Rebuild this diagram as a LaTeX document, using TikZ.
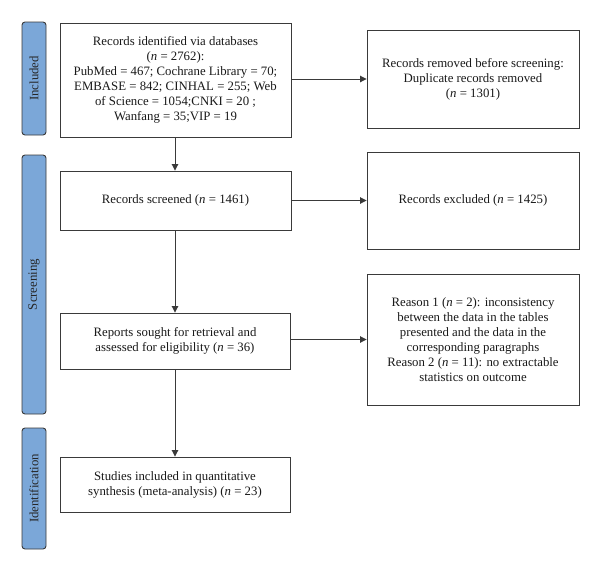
\documentclass[tikz,border=0pt]{standalone}
\usepackage{fontspec}
\setmainfont{Liberation Serif}
\usetikzlibrary{arrows.meta}
\definecolor{barblue}{HTML}{7BA7D8}
\definecolor{edge}{HTML}{3A3A3A}
\tikzset{
  box/.style={draw=edge, line width=0.9pt, fill=white, inner sep=0pt, align=center, font=\fontsize{12.8}{15}\selectfont, text=black!90},
  bar/.style={draw=edge, line width=0.9pt, fill=barblue, rounded corners=3pt, inner sep=0pt},
  barlabel/.style={rotate=90, font=\fontsize{12.8}{14}\selectfont, text=black!85},
  arr/.style={draw=edge, line width=0.9pt, -{Triangle[length=6.5pt,width=6.5pt]}}
}
\newcommand{\nn}{\textit{n}}
\begin{document}
\begin{tikzpicture}[x=1pt,y=-1pt]
\useasboundingbox (0,0) rectangle (600,571);
% side bars
\node[bar, minimum width=24pt, minimum height=113pt] (b1) at (34,78.5) {};
\node[barlabel] (l1) at (b1.center) {Included};
\node[bar, minimum width=24pt, minimum height=259pt] (b2) at (34,284.5) {};
\node[barlabel] (l2) at (b2.center) {Screening};
\node[bar, minimum width=24pt, minimum height=121pt] (b3) at (34,488.5) {};
\node[barlabel] (l3) at (b3.center) {Identification};
% boxes
\node[box, minimum width=231pt, minimum height=114pt] (n1) at (175.5,80) {Records identified via databases\\(\nn{} = 2762):\\PubMed = 467; Cochrane Library = 70;\\EMBASE = 842; CINHAL = 255; Web\\of Science = 1054;CNKI = 20 ;\\Wanfang = 35;VIP = 19};
\node[box, minimum width=212pt, minimum height=98pt] (n2) at (473,79) {Records removed before screening:\\Duplicate records removed\\(\nn{} = 1301)};
\node[box, minimum width=231pt, minimum height=59pt] (n3) at (175.5,200.5) {Records screened (\nn{} = 1461)};
\node[box, minimum width=212pt, minimum height=97pt] (n4) at (473,200.5) {Records excluded (\nn{} = 1425)};
\node[box, minimum width=230pt, minimum height=56pt] (n5) at (175,341) {Reports sought for retrieval and\\assessed for eligibility (\nn{} = 36)};
\node[box, minimum width=212pt, minimum height=131pt] (n6) at (473,339.5) {Reason 1 (\nn{} = 2): inconsistency\\between the data in the tables\\presented and the data in the\\corresponding paragraphs\\Reason 2 (\nn{} = 11): no extractable\\statistics on outcome};
\node[box, minimum width=230pt, minimum height=55pt] (n7) at (175,484.5) {Studies included in quantitative\\synthesis (meta-analysis) (\nn{} = 23)};
% arrows
\draw[arr] (n1.east |- n2.west) -- (n2.west);
\draw[arr] (n1.south -| 175,0) -- (n3.north -| 175,0);
\draw[arr] (n3.east |- n4.west) -- (n4.west);
\draw[arr] (n3.south -| 175,0) -- (n5.north -| 175,0);
\draw[arr] (n5.east |- n6.west) -- (n6.west);
\draw[arr] (n5.south) -- (n7.north);
\end{tikzpicture}
\end{document}
